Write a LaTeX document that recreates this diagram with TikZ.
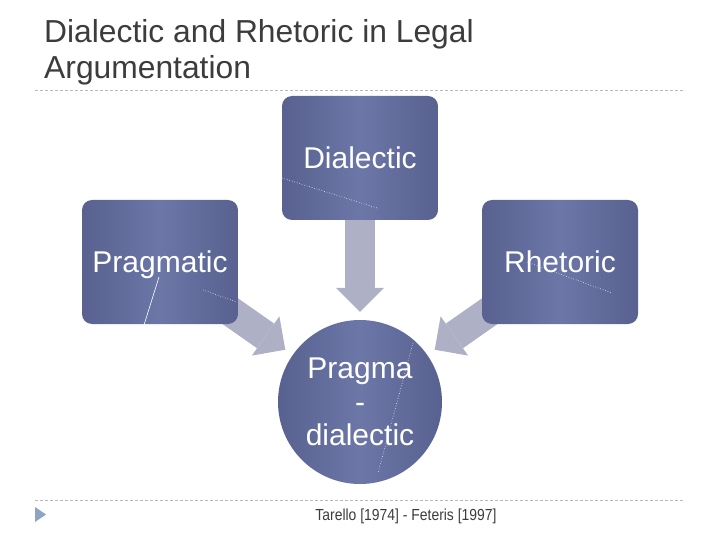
\documentclass[tikz,border=0pt]{standalone}
\usepackage{fontspec}
\setmainfont{Liberation Sans}
\usepackage{graphicx}
\usetikzlibrary{arrows.meta,positioning,calc,backgrounds}

\definecolor{boxedge}{RGB}{88,97,143}
\definecolor{boxmid}{RGB}{108,119,168}
\definecolor{arrowgray}{RGB}{174,177,197}
\definecolor{titlegray}{RGB}{60,60,60}
\definecolor{rulegray}{RGB}{184,184,184}
\definecolor{bulletblue}{RGB}{142,163,198}

\tikzset{
  stage/.style={rectangle, rounded corners=10pt, minimum width=156pt, minimum height=124pt,
    left color=boxedge, right color=boxedge, middle color=boxmid, text=white,
    font=\fontsize{30}{33.5}\selectfont, text height=21.5pt, text depth=0pt, inner sep=0pt},
  merge/.style={circle, minimum size=164pt, inner sep=0pt, align=center,
    left color=boxedge, right color=boxedge, middle color=boxmid, text=white,
    font=\fontsize{30}{33.5}\selectfont},
  bigarrow/.style={draw=arrowgray, line width=30pt,
    -{Triangle[length=24pt,width=48pt,line width=0pt]}},
  dashrule/.style={draw=rulegray, dash pattern=on 3pt off 2pt, line width=0.8pt},
  glint/.style={draw=white, line width=0.6pt},
}

\begin{document}
\begin{tikzpicture}[x=1pt,y=-1pt]
        \useasboundingbox (0,0) rectangle (720,540);

        % title and rules
        \node[anchor=north west, inner sep=0pt, align=left, text=titlegray,
          font=\fontsize{31.8}{36}\selectfont] (title) at (44,19)
          {Dialectic and Rhetoric in Legal\\Argumentation};
        \draw[dashrule] (35,90) -- (685,90);
        \draw[dashrule] (35,500) -- (685,500);

        % the three sources and the result
        \node[stage] (dia_box) at (360,158) {Dialectic};
        \node[stage] (prag_box) at ($(dia_box)+(-200,104)$) {Pragmatic};
        \node[stage] (rhet_box) at ($(dia_box)+(200,104)$) {Rhetoric};
        \node[merge] (pd_circle) at ($(dia_box)+(0,244)$) {Pragma\\-\\dialectic};

        % block arrows behind the shapes
        \begin{scope}[on background layer]
          \draw[bigarrow, shorten >=8pt] (dia_box.center) -- (pd_circle);
          \draw[bigarrow, shorten >=9pt] (prag_box.center) -- (pd_circle);
          \draw[bigarrow, shorten >=9pt] (rhet_box.center) -- (pd_circle);
        \end{scope}

        % thin white marks on the shapes
        \draw[glint, dotted] (282,178) -- (377,208);
        \draw[glint] (159,277) -- (144,325);
        \draw[glint, dotted] (203,290) -- (237,302);
        \draw[glint, dotted] (527,262) -- (612,293);
        \draw[glint, dotted] (413,343) -- (378,473);

        % footer
        \fill[bulletblue] (35,507) -- (46,514.5) -- (35,522) -- cycle;
        \node[anchor=base, inner sep=0pt, text=titlegray, font=\fontsize{16}{18}\selectfont]
          (source) at (406,520) {\scalebox{0.87}[1]{Tarello [1974] - Feteris [1997]}};

\end{tikzpicture}
\end{document}
